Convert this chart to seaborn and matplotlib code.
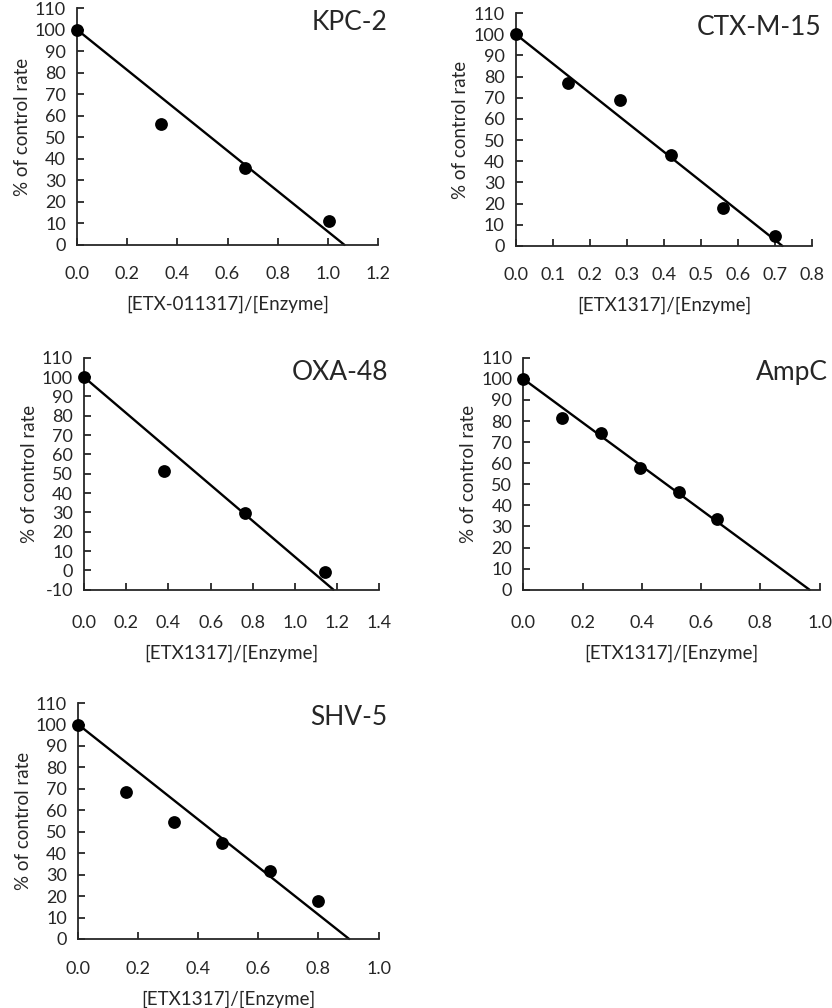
# Import libraries
import numpy as np
import pandas as pd
import seaborn as sns
import matplotlib.pyplot as plt

# Data
kpc_x = [0.0, 0.335, 0.67, 1.005]
kpc_y = [100, 56, 35.5, 11]
kpc_fit_x = [0.0, 1.066]
kpc_fit_y = [100, 0]

ctx_x = [0.0, 0.14, 0.28, 0.42, 0.56, 0.70]
ctx_y = [100, 77, 69, 43, 18, 4.5]
ctx_fit_x = [0.0, 0.72]
ctx_fit_y = [100, 0]

oxa_x = [0.0, 0.377, 0.761, 1.143]
oxa_y = [100, 51.6, 29.5, -0.8]
oxa_fit_x = [0.0, 1.182]
oxa_fit_y = [100, -10]

ampc_x = [0.0, 0.131, 0.262, 0.393, 0.525, 0.654]
ampc_y = [100, 81.5, 74.4, 57.6, 46.4, 33.6]
ampc_fit_x = [0.0, 0.966]
ampc_fit_y = [100, 0]

shv_x = [0.0, 0.16, 0.319, 0.479, 0.637, 0.797]
shv_y = [100, 68.7, 54.5, 44.7, 31.9, 17.7]
shv_fit_x = [0.0, 0.902]
shv_fit_y = [100, 0]

sns.set_style("ticks")
plt.rcParams['font.family'] = ['Lato', 'DejaVu Sans']
plt.rcParams['axes.unicode_minus'] = False

narrow = ['Liberation Sans Narrow', 'Lato', 'DejaVu Sans']
wide = ['Lato', 'DejaVu Sans']

fig = plt.figure(figsize=(8.32, 10.08), dpi=100)

panels = [
    # name, x, y, fit x, fit y, xlabel, xmax, xstep, ymin, axes rect, x font, tick pad
    ("KPC-2", kpc_x, kpc_y, kpc_fit_x, kpc_fit_y, "[ETX-011317]/[Enzyme]", 1.2, 0.2, 0,
     [0.0925, 0.757, 0.362, 0.235], narrow, 15),
    ("CTX-M-15", ctx_x, ctx_y, ctx_fit_x, ctx_fit_y, "[ETX1317]/[Enzyme]", 0.8, 0.1, 0,
     [0.620, 0.756, 0.356, 0.231], narrow, 15),
    ("OXA-48", oxa_x, oxa_y, oxa_fit_x, oxa_fit_y, "[ETX1317]/[Enzyme]", 1.4, 0.2, -10,
     [0.101, 0.415, 0.355, 0.230], narrow, 18),
    ("AmpC", ampc_x, ampc_y, ampc_fit_x, ampc_fit_y, "[ETX1317]/[Enzyme]", 1.0, 0.2, 0,
     [0.629, 0.415, 0.356, 0.230], narrow, 18),
    ("SHV-5", shv_x, shv_y, shv_fit_x, shv_fit_y, "[ETX1317]/[Enzyme]", 1.0, 0.2, 0,
     [0.094, 0.0685, 0.361, 0.234], wide, 16),
]

for name, xs, ys, fx, fy, xlabel, xmax, xstep, ymin, rect, xfont, xpad in panels:
    ax = fig.add_axes(rect)
    df = pd.DataFrame({'x': xs, 'y': ys})
    fit = pd.DataFrame({'x': fx, 'y': fy})
    sns.lineplot(data=fit, x='x', y='y', ax=ax, color='black', linewidth=1.7, clip_on=False)
    sns.scatterplot(data=df, x='x', y='y', ax=ax, color='black', s=85,
                    edgecolor='black', linewidth=0, clip_on=False, zorder=3)
    ax.set_xlim(0, xmax)
    ax.set_ylim(ymin, 110)
    xt = np.arange(0, xmax + xstep / 2, xstep)
    ax.set_xticks(xt)
    ax.set_xticklabels([f"{v:.1f}" for v in xt], family=xfont)
    ax.set_yticks(np.arange(ymin, 111, 10))
    sns.despine(ax=ax)
    for sp in ax.spines.values():
        sp.set_linewidth(1.3)
    ax.tick_params(axis='x', direction='in', length=5, width=1.3, pad=xpad, labelsize=13)
    ax.tick_params(axis='y', direction='in', length=5, width=1.3, pad=8, labelsize=13)
    ax.set_xlabel(xlabel, fontsize=13.5, labelpad=10, family=xfont)
    ax.set_ylabel("% of control rate", fontsize=13.5, labelpad=3)
    ax.text(1.03, 0.99, name, transform=ax.transAxes, ha='right', va='top', fontsize=19)

plt.savefig('out.png', dpi=100)
